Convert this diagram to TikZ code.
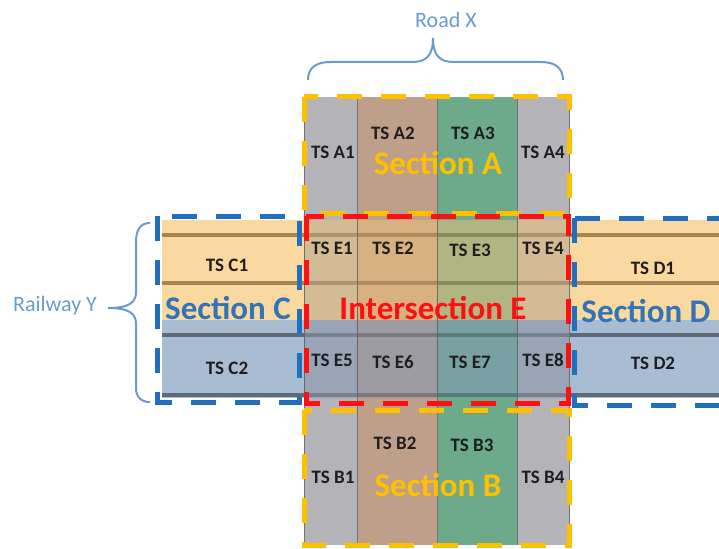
\documentclass[tikz,border=0pt]{standalone}
\usepackage{fontspec}
\setmainfont{Carlito}
\definecolor{railorange}{HTML}{F9D9A0}
\definecolor{railblue}{HTML}{A8BCD2}
\definecolor{railbrown}{HTML}{A8844E}
\definecolor{raildark}{HTML}{5E6A78}
\definecolor{roadgray}{HTML}{B4B4B8}
\definecolor{roadbrown}{HTML}{BE9F8A}
\definecolor{roadgreen}{HTML}{6DA98B}
\definecolor{secyellow}{HTML}{FFC000}
\definecolor{secred}{HTML}{FF1010}
\definecolor{secblue}{HTML}{2170C0}
\definecolor{textblue}{HTML}{3274B8}
\definecolor{braceblue}{HTML}{6A9AD0}
\definecolor{tsblack}{HTML}{1E1E1E}
\begin{document}
\begin{tikzpicture}[x=1pt,y=-1pt,
  ts/.style={font=\bfseries\fontsize{19}{19}\selectfont,text=tsblack,inner sep=0pt},
  sect/.style={font=\bfseries\fontsize{33}{33}\selectfont,inner sep=0pt},
  tag/.style={font=\fontsize{22}{22}\selectfont,text=braceblue,inner sep=0pt},
  secbox/.style={line width=5pt,dash pattern=on 25pt off 19pt},
  railline/.style={line width=3.5pt},
  stripline/.style={draw=black!55,line width=0.6pt},
  bracket/.style={braceblue,line width=2pt}]
\useasboundingbox (0,0) rectangle (719,548);
\clip (0,0) rectangle (719,548);

\fill[railorange] (162,220) rectangle (719,320);
\fill[railblue] (162,320) rectangle (719,398);
\draw[railline,railbrown] (162,235) -- (719,235);
\draw[railline,railbrown] (162,283) -- (719,283);
\draw[railline,raildark] (162,335) -- (719,335);
\draw[railline,raildark] (162,395) -- (719,395);

\foreach \xa/\xb/\col in {304/357/roadgray,357/437/roadbrown,437/517/roadgreen,517/569/roadgray}{
  \fill[\col] (\xa,97) rectangle (\xb,220);
  \fill[\col] (\xa,398) rectangle (\xb,545);
  \fill[\col,fill opacity=0.5] (\xa,220) rectangle (\xb,398);
  \draw[stripline] (\xa,97) -- (\xa,545);
}
\draw[stripline] (569,97) -- (569,545);
\begin{scope}[blend mode=multiply,fill opacity=0.35]
\fill[railorange] (304,220) rectangle (569,320);
\fill[railblue] (304,320) rectangle (569,398);
\end{scope}

\draw[secbox,secyellow] (304,97) rectangle (569,213);
\draw[secbox,secyellow] (304,410) rectangle (569,545);
\draw[secbox,secred] (306,216) rectangle (568,403);
\draw[secbox,secblue] (157,216) rectangle (299,402);
\draw[secbox,secblue] (574,218) rectangle (730,405);

\node[ts] (a1) at (333,152) {TS A1};
\node[ts] (a2) at (393,133) {TS A2};
\node[ts] (a3) at (473,133) {TS A3};
\node[ts] (a4) at (543,152) {TS A4};
\node[sect,text=secyellow] (secA) at (438,163) {Section A};

\node[ts] (e1) at (332,248) {TS E1};
\node[ts] (e2) at (393,248) {TS E2};
\node[ts] (e3) at (470,250) {TS E3};
\node[ts] (e4) at (543,248) {TS E4};
\node[sect,text=secred] (secE) at (433,308) {Intersection E};
\node[ts] (e5) at (332,360) {TS E5};
\node[ts] (e6) at (393,362) {TS E6};
\node[ts] (e7) at (470,362) {TS E7};
\node[ts] (e8) at (543,360) {TS E8};

\node[ts] (c1) at (227,265) {TS C1};
\node[sect,text=textblue] (secC) at (228,308) {Section C};
\node[ts] (c2) at (227,368) {TS C2};

\node[ts] (d1) at (653,268) {TS D1};
\node[sect,text=textblue] (secD) at (646,311) {Section D};
\node[ts] (d2) at (653,363) {TS D2};

\node[ts] (b1) at (333,477) {TS B1};
\node[ts] (b2) at (395,443) {TS B2};
\node[ts] (b3) at (472,445) {TS B3};
\node[ts] (b4) at (543,477) {TS B4};
\node[sect,text=secyellow] (secB) at (438,485) {Section B};

\node[tag] (road) at (446,20) {Road X};
\node[tag] (rail) at (55,306) {Railway Y};

\draw[bracket] (308,80) .. controls (308,68) and (316,62) .. (330,62) -- (412,62)
  .. controls (426,62) and (433,56) .. (433,38)
  .. controls (433,56) and (440,62) .. (454,62) -- (541,62)
  .. controls (555,62) and (563,68) .. (563,80);
\draw[bracket] (150,223) .. controls (141,223) and (136,229) .. (136,242) -- (136,292)
  .. controls (136,302) and (130,308) .. (108,308)
  .. controls (130,308) and (136,314) .. (136,324) -- (136,388)
  .. controls (136,397) and (141,402) .. (150,402);
\end{tikzpicture}
\end{document}
